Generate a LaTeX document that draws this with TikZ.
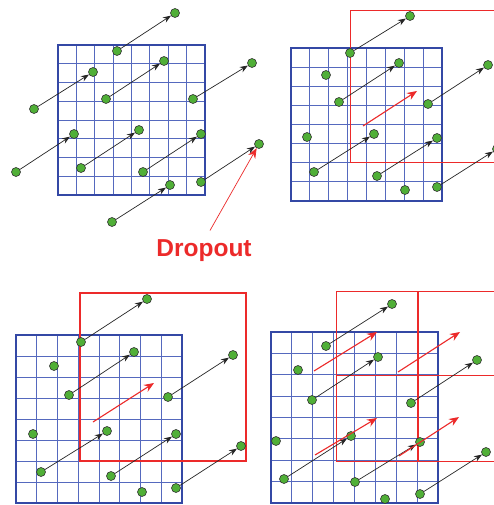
\documentclass[tikz,border=0pt]{standalone}
\usepackage{fontspec}
\setsansfont{Liberation Sans}
\usetikzlibrary{arrows.meta}
\definecolor{gridblue}{RGB}{52,72,165}
\definecolor{thinblue}{RGB}{85,105,190}
\definecolor{dotgreen}{RGB}{80,175,55}
\definecolor{dropred}{RGB}{236,42,42}
\tikzset{
  dot/.style={circle, draw=black!80, line width=0.6pt, fill=dotgreen, minimum size=9pt, inner sep=0pt},
  move/.style={->, line width=0.7pt, black!85},
  shiftarrow/.style={-{Stealth[length=10pt,width=8pt]}, line width=1.1pt, dropred},
  window/.style={draw=dropred, line width=1pt},
  gridline/.style={thinblue, line width=0.9pt},
  gridbox/.style={gridblue, line width=2.2pt},
}
\begin{document}
\begin{tikzpicture}[x=1pt, y=-1pt, >={Stealth[length=8pt,width=6pt]}]
\clip (0,0) rectangle (494,505);
\fill[white] (0,0) rectangle (494,505);

% image grids
\foreach \gx/\gy/\gw/\gh in {58/45/147/150, 291/48/151/153, 16/335/166/168, 271/332/167/171} {
  \foreach \k in {1,...,7} {
    \draw[gridline] (\gx+\k*\gw/8,\gy) -- ++(0,\gh);
    \draw[gridline] (\gx,\gy+\k*\gh/8) -- ++(\gw,0);
  }
  \draw[gridbox] (\gx,\gy) rectangle ++(\gw,\gh);
}

% shifted windows
\draw[window] (350,11) rectangle (512,162);
\draw[window, line width=1.5pt] (80,293) rectangle (246,461);
\draw[window] (336,291) -- (336,461);
\draw[window, line width=1.6pt] (418,291) -- (418,461);
\draw[window] (336,291) -- (500,291);
\draw[window] (336,375) -- (500,375);
\draw[window] (336,461) -- (500,461);

% moving points
\foreach \n/\sx/\sy/\ex/\ey in {
    a1/117/51/175/13, a2/34/109/93/72, a3/106/99/164/61, a4/193/99/252/63,
    a5/16/172/74/134, a6/81/168/139/130, a7/143/172/201/134, a8/201/182/259/144,
    a9/112/222/170/185,
    b1/350/53/410/16, b2/339/102/399/63, b3/428/104/488/65, b4/314/172/374/134,
    b5/377/176/437/138, b6/437/187/497/149,
    c1/81/342/147/299, c2/69/395/134/352, c3/168/397/233/355, c4/41/472/107/431,
    c5/111/476/176/434, c6/176/488/241/446,
    d1/326/346/392/304, d2/312/400/378/357, d3/411/403/477/360, d4/284/479/351/436,
    d5/355/482/420/442, d6/420/494/486/452} {
  \node[dot] (\n s) at (\sx,\sy) {};
  \node[dot] (\n e) at (\ex,\ey) {};
  \draw[move] (\n s) -- (\n e);
}

% points that stay
\foreach \n/\px/\py in {b7/326/75, b8/307/137, b9/405/190,
    c7/54/366, c8/33/434, c9/142/492,
    d7/298/370, d8/276/441, d9/385/499}
  \node[dot] (\n) at (\px,\py) {};

% window displacements
\coordinate (bf) at (363,126); \coordinate (bt) at (417,91);
\coordinate (cf) at (93,422);  \coordinate (ct) at (154,383);
\coordinate (df1) at (314,371); \coordinate (dt1) at (377,332);
\coordinate (df2) at (398,372); \coordinate (dt2) at (460,332);
\coordinate (df3) at (315,455); \coordinate (dt3) at (377,418);
\coordinate (df4) at (399,456); \coordinate (dt4) at (459,417);
\draw[shiftarrow] (bf) -- (bt);
\draw[shiftarrow] (cf) -- (ct);
\draw[shiftarrow] (df1) -- (dt1);
\draw[shiftarrow] (df2) -- (dt2);
\draw[shiftarrow] (df3) -- (dt3);
\draw[shiftarrow] (df4) -- (dt4);

\node[text=dropred, font=\sffamily\bfseries\fontsize{24.5}{26}\selectfont] (drop) at (204,251) {Dropout};
\draw[shiftarrow, line width=0.7pt] ([xshift=6pt, yshift=6pt]drop.north) -- (a8e);
\end{tikzpicture}
\end{document}
